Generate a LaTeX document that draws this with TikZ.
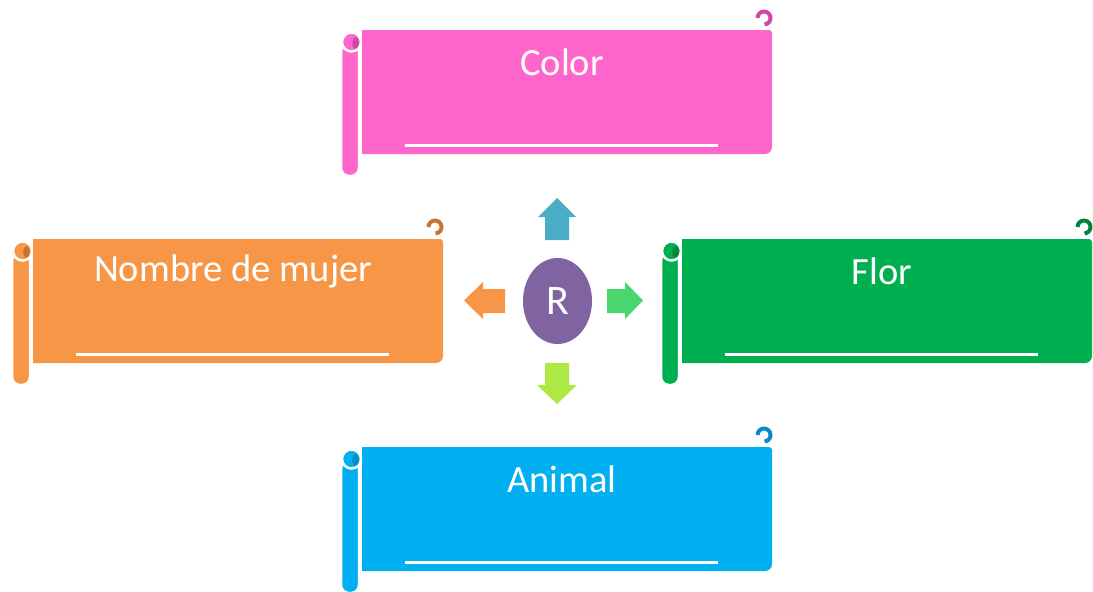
\documentclass[tikz,border=0pt]{standalone}
\usepackage{fontspec}
\setmainfont{Carlito}
\usetikzlibrary{shapes.geometric}
\definecolor{pinkC}{HTML}{FF66CC}
\definecolor{pinkD}{HTML}{CC4AA6}
\definecolor{orangeC}{HTML}{F79646}
\definecolor{orangeD}{HTML}{C8722F}
\definecolor{greenC}{HTML}{00B050}
\definecolor{greenD}{HTML}{00843C}
\definecolor{blueC}{HTML}{00B0F0}
\definecolor{blueD}{HTML}{0A8AC4}
\definecolor{arrUp}{HTML}{4BACC6}
\definecolor{arrLeft}{HTML}{F79646}
\definecolor{arrRight}{HTML}{4AD66E}
\definecolor{arrDown}{HTML}{ADE844}
\definecolor{centerC}{HTML}{8064A2}
\tikzset{
  scrolltext/.style={text=white, font=\fontsize{38.5}{41}\selectfont, inner sep=0pt},
  rline/.style={white, line width=3pt},
}
% #1 name, #2 x0, #3 y0, #4 fill, #5 dark, #6 text
\newcommand\myscroll[6]{%
  \begin{scope}[shift={(#2,#3)}]
    \fill[#4] (0,124) -- (0,0) [rounded corners=3pt] -- (410,0) [rounded corners=7pt] -- (410,124) [sharp corners] -- cycle;
    \coordinate (#1) at (205,62);
    \path[fill=#4, draw=white, line width=1.5pt, rounded corners=7.5pt] (-20.5,14) rectangle (-3.5,145.5);
    \path[fill=#4, draw=white, line width=2.5pt] (-10.5,12) circle[radius=9.5];
    \fill[#5] (-6.5,13) ellipse[x radius=3.2, y radius=6];
    \draw[#5, line width=4pt] (395.5,-12) arc[start angle=180, end angle=445, radius=6.5];
    \node[scrolltext] (#1-t) at (200,32) {#6};
    \coordinate (#1-ua) at (43,115);
    \coordinate (#1-ub) at (356,115);
    \draw[rline] (#1-ua) -- (#1-ub);
  \end{scope}}
\begin{document}
\begin{tikzpicture}[x=1pt,y=-1pt]
\useasboundingbox (0,0) rectangle (1093,592);
\myscroll{color}{362}{30}{pinkC}{pinkD}{Color}
\myscroll{mujer}{33}{239}{orangeC}{orangeD}{Nombre de mujer}
\myscroll{flor}{682}{239}{greenC}{greenD}{Flor}
\myscroll{animal}{362}{447}{blueC}{blueD}{Animal}
% center
\node[ellipse, fill=centerC, minimum width=69pt, minimum height=86pt, inner sep=0pt,
      text=white, font=\fontsize{42}{44}\selectfont] (R) at (557.5,301) {R};
% arrows
\fill[arrUp] (545,240) -- (545,217) -- (538,217) -- (557,198) -- (576,217) -- (569,217) -- (569,240) -- cycle;
\fill[arrDown] (545,363) -- (545,385) -- (537,385) -- (557,404) -- (577,385) -- (569,385) -- (569,363) -- cycle;
\fill[arrLeft] (505,289) -- (483,289) -- (483,282) -- (464,300.5) -- (483,319) -- (483,313) -- (505,313) -- cycle;
\fill[arrRight] (607,289) -- (625,289) -- (625,282) -- (643,300.5) -- (625,319) -- (625,313) -- (607,313) -- cycle;
\end{tikzpicture}
\end{document}
